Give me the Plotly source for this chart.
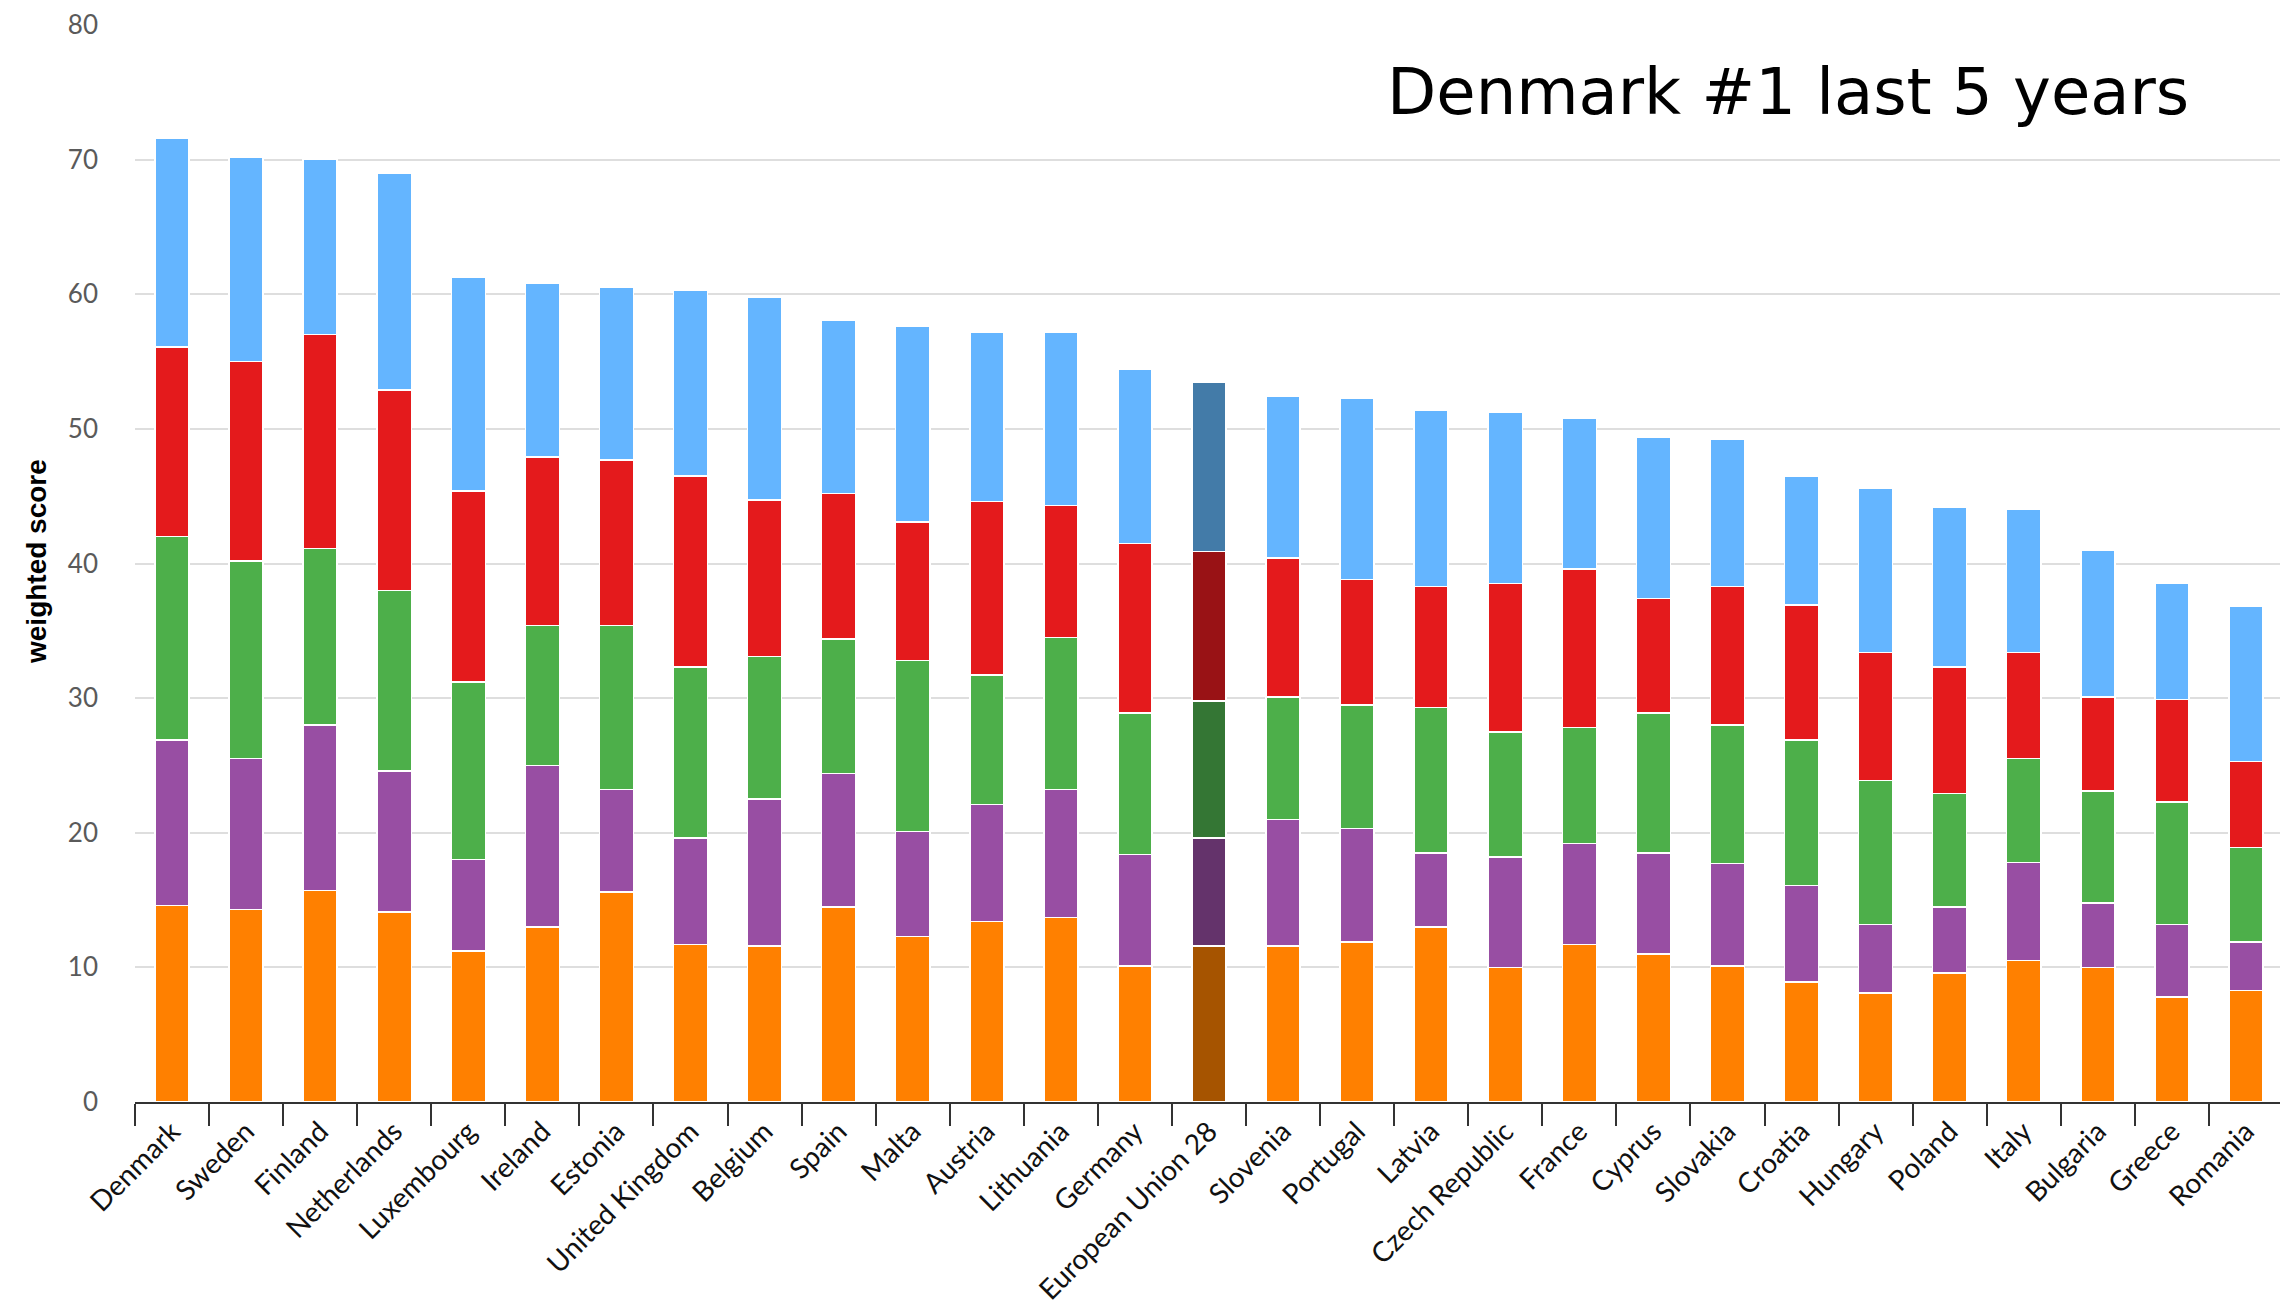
import plotly.graph_objects as go

countries = ["Denmark", "Sweden", "Finland", "Netherlands", "Luxembourg", "Ireland",
             "Estonia", "United Kingdom", "Belgium", "Spain", "Malta", "Austria",
             "Lithuania", "Germany", "European Union 28", "Slovenia", "Portugal",
             "Latvia", "Czech Republic", "France", "Cyprus", "Slovakia", "Croatia",
             "Hungary", "Poland", "Italy", "Bulgaria", "Greece", "Romania"]

orange_vals = [14.6, 14.3, 15.7, 14.1, 11.2, 13.0, 15.6, 11.7, 11.6, 14.5, 12.3, 13.4,
               13.7, 10.1, 11.6, 11.6, 11.9, 13.0, 10.0, 11.7, 11.0, 10.1, 8.9,
               8.1, 9.6, 10.5, 10.0, 7.8, 8.3]
purple_vals = [12.3, 11.2, 12.3, 10.5, 6.8, 12.0, 7.6, 7.9, 10.9, 9.9, 7.8, 8.7,
               9.5, 8.3, 8.0, 9.4, 8.4, 5.5, 8.2, 7.5, 7.5, 7.6, 7.2,
               5.1, 4.9, 7.3, 4.8, 5.4, 3.6]
green_vals = [15.1, 14.7, 13.1, 13.4, 13.2, 10.4, 12.2, 12.7, 10.6, 10.0, 12.7, 9.6,
              11.3, 10.5, 10.2, 9.1, 9.2, 10.8, 9.3, 8.6, 10.4, 10.3, 10.8,
              10.7, 8.4, 7.7, 8.3, 9.1, 7.0]
red_vals = [14.1, 14.8, 15.9, 14.9, 14.2, 12.5, 12.3, 14.2, 11.6, 10.8, 10.3, 12.9,
            9.8, 12.6, 11.1, 10.3, 9.3, 9.0, 11.0, 11.8, 8.5, 10.3, 10.0,
            9.5, 9.4, 7.9, 7.0, 7.6, 6.4]
blue_vals = [15.5, 15.2, 13.0, 16.1, 15.9, 12.9, 12.8, 13.8, 15.1, 12.9, 14.5, 12.6,
             12.9, 12.9, 12.6, 12.0, 13.5, 13.1, 12.7, 11.2, 12.0, 10.9, 9.6,
             12.2, 11.9, 10.6, 10.9, 8.6, 11.5]

y_ticks = [0, 10, 20, 30, 40, 50, 60, 70, 80]
highlight = "European Union 28"
title_text = "Denmark #1 last 5 years"
y_title = "weighted score"

series = [
    ("orange", orange_vals, "#FF8000", "#A65400"),
    ("purple", purple_vals, "#984EA3", "#64336B"),
    ("green", green_vals, "#4DAF4A", "#347634"),
    ("red", red_vals, "#E41A1C", "#991215"),
    ("blue", blue_vals, "#64B5FF", "#437BA8"),
]

fig = go.Figure()
for name, vals, base, dark in series:
    colors = [dark if c == highlight else base for c in countries]
    fig.add_trace(go.Bar(
        x=countries, y=vals, name=name,
        marker=dict(color=colors, line=dict(color="white", width=1.5)),
        showlegend=False,
    ))

tick_font = "Lato, 'Open Sans', sans-serif"

# page has an 8px body margin; figure is sized so the plot lands where the reference has it
PL, PR, PT, PB = 135, 2283, 25, 1102   # plot area in page pixels
OFF = 8
FIG_W, FIG_H = 2288 - OFF, 1308 - OFF
PW, PH = PR - PL, PB - PT

fig.update_layout(
    width=FIG_W, height=FIG_H,
    barmode="stack", bargap=0.54,
    paper_bgcolor="white", plot_bgcolor="white",
    margin=dict(l=PL - OFF, r=FIG_W - (PR - OFF), t=PT - OFF, b=FIG_H - (PB - OFF),
                autoexpand=False),
    xaxis=dict(
        type="category", tickangle=-45, tickson="boundaries",
        ticks="outside", ticklen=22, tickwidth=2, tickcolor="#333",
        showline=True, linecolor="#333", linewidth=2,
        showgrid=False, automargin=False,
        tickfont=dict(family=tick_font, size=28, color="#111"),
    ),
    yaxis=dict(
        range=[0, 80], tickvals=y_ticks, showgrid=True,
        gridcolor="#dedede", gridwidth=2, zeroline=False,
        showline=False, ticks="", ticklabelstandoff=36,
        automargin=False,
        tickfont=dict(family=tick_font, size=26, color="#5a5a5a"),
    ),
    annotations=[
        dict(text=title_text, xref="paper", yref="paper",
             x=(1385 - PL) / PW, y=1 - (92 - PT) / PH,
             xanchor="left", yanchor="middle", showarrow=False,
             font=dict(family="DejaVu Sans", size=64, color="black")),
        dict(text=y_title, xref="paper", yref="paper",
             x=(36 - PL) / PW, y=1 - (562 - PT) / PH,
             xanchor="center", yanchor="middle", showarrow=False, textangle=-90,
             font=dict(family="Liberation Sans, Arial, sans-serif", size=28,
                       color="black", weight="bold")),
    ],
)

fig.write_html("out.html")
